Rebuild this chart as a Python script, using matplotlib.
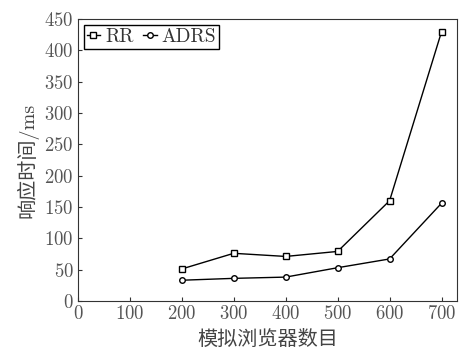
import matplotlib
matplotlib.use('Agg')
import matplotlib.pyplot as plt

plt.rcParams['font.family'] = ['cmr10', 'Noto Sans CJK SC', 'DejaVu Sans']
plt.rcParams['axes.formatter.use_mathtext'] = True

browsers = [200, 300, 400, 500, 600, 700]
rr = [51, 76, 71, 79, 160, 430]
adrs = [33, 36, 38, 53, 67, 156]

fig = plt.figure(figsize=(4.66, 3.54), dpi=100)
ax = fig.add_axes([0.167, 0.150, 0.814, 0.796])

ax.plot(browsers, rr, color='black', lw=1, marker='s', ms=4, mfc='white', mec='black', mew=1, label='RR')
ax.plot(browsers, adrs, color='black', lw=1, marker='o', ms=4, mfc='white', mec='black', mew=1, label='ADRS')

ax.set_xlim(0, 730)
ax.set_ylim(0, 450)
ax.set_xticks(range(0, 701, 100))
ax.set_yticks(range(0, 451, 50))
ax.tick_params(direction='in', length=3, labelsize=13.5, colors='#333333', labelcolor='#555555', pad=3)
for s in ax.spines.values():
    s.set_color('#333333')

ax.set_xlabel('模拟浏览器数目', fontsize=14.5, color='#444444', labelpad=5)
ax.set_ylabel('响应时间/ms', fontsize=14.5, color='#444444', labelpad=4)

leg = ax.legend(loc='upper left', fontsize=14, fancybox=False, edgecolor='black',
                handlelength=0.7, handletextpad=0.25, borderpad=0.15, borderaxespad=0.3,
                ncol=2, columnspacing=0.5, framealpha=1)
leg.get_frame().set_linewidth(1.0)
for t in leg.get_texts():
    t.set_color('#333333')

fig.savefig('out.png', dpi=100)
